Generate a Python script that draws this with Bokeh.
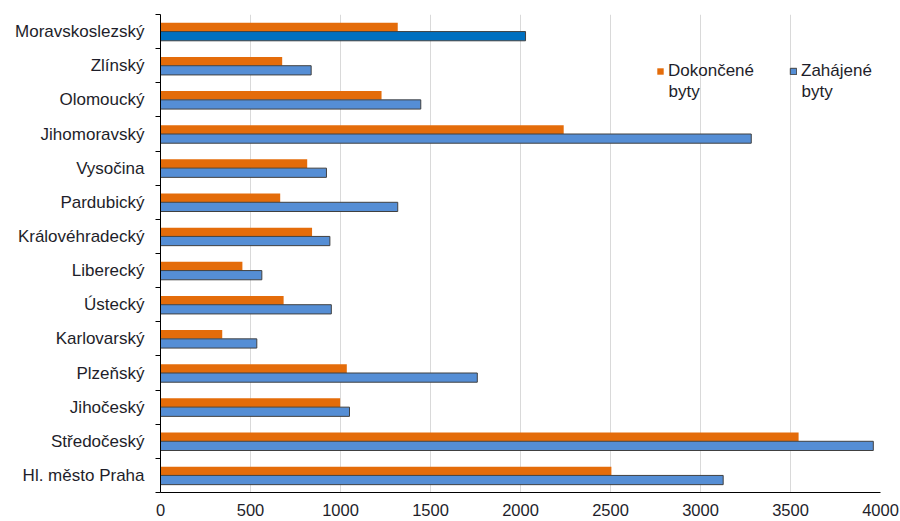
import numpy as np
from bokeh.plotting import figure
from bokeh.models import (ColumnDataSource, FixedTicker, Legend, LegendItem, Range1d, Label)
from bokeh.transform import dodge
from bokeh.embed import file_html
from bokeh.resources import INLINE

# Data (top to bottom as shown)
regions = ["Moravskoslezský", "Zlínský", "Olomoucký", "Jihomoravský", "Vysočina",
           "Pardubický", "Královéhradecký", "Liberecký", "Ústecký", "Karlovarský",
           "Plzeňský", "Jihočeský", "Středočeský", "Hl. město Praha"]
dokoncene = [1318, 676, 1228, 2240, 815, 665, 842, 455, 684, 343, 1035, 998, 3545, 2505]
zahajene = [2028, 837, 1446, 3282, 922, 1318, 941, 563, 949, 535, 1760, 1050, 3960, 3126]
highlight = "Moravskoslezský"
x_ticks = [0, 500, 1000, 1500, 2000, 2500, 3000, 3500, 4000]

ORANGE = "#E46C0A"
BLUE = "#558ED5"
BLUE_HI = "#0070C0"
TEXT = "#1e1e2a"
FONT = "Liberation Sans"

n = len(regions)
ypos = [n - 0.5 - i for i in range(n)]
blue_colors = [BLUE_HI if r == highlight else BLUE for r in regions]

src = ColumnDataSource(dict(y=ypos, dok=dokoncene, zah=zahajene, bc=blue_colors, reg=regions))

p = figure(width=900, height=521, x_range=Range1d(0, 4000), y_range=Range1d(0, n),
           output_backend="svg", toolbar_location=None,
           min_border_left=160, min_border_right=20, min_border_top=14, min_border_bottom=29)

r1 = p.hbar(y=dodge("y", 0.13), right="dok", left=0, height=0.255, source=src,
            fill_color=ORANGE, line_color=None)
r2 = p.hbar(y=dodge("y", -0.135), right="zah", left=0, height=0.27, source=src,
            fill_color="bc", line_color="#404040", line_width=1)

# axes
p.xaxis.ticker = FixedTicker(ticks=x_ticks)
p.xaxis.major_tick_out = 0
p.xaxis.major_tick_in = 0
p.xaxis.minor_tick_line_color = None
p.xaxis.axis_line_color = "black"
p.xaxis.major_label_text_font = FONT
p.xaxis.major_label_text_font_size = "16.5px"
p.xaxis.major_label_text_color = TEXT
p.xaxis.major_label_standoff = 11

p.yaxis.ticker = FixedTicker(ticks=ypos, minor_ticks=list(range(n + 1)))
p.yaxis.major_label_overrides = {float(y): r for y, r in zip(ypos, regions)}
p.yaxis.major_tick_out = 0
p.yaxis.major_tick_in = 0
p.yaxis.minor_tick_out = 5
p.yaxis.minor_tick_in = 0
p.yaxis.minor_tick_line_color = "black"
p.yaxis.axis_line_color = "black"
p.yaxis.major_label_text_font = FONT
p.yaxis.major_label_text_font_size = "17px"
p.yaxis.major_label_text_color = TEXT
p.yaxis.major_label_standoff = 11

p.xgrid.ticker = FixedTicker(ticks=x_ticks)
p.xgrid.grid_line_color = "#d9d9d9"
p.ygrid.grid_line_color = None
p.outline_line_color = None

leg_kw = dict(border_line_color=None, background_fill_alpha=0, padding=0, margin=0,
              label_text_font=FONT, label_text_font_size="17px", label_text_color=TEXT,
              glyph_width=8, glyph_height=8, label_standoff=4, spacing=0)
leg1 = Legend(items=[LegendItem(label="Dokončené", renderers=[r1])],
              location=(496, 411), **leg_kw)
leg2 = Legend(items=[LegendItem(label="Zahájené", renderers=[r2], index=1)],
              location=(629, 411), **leg_kw)
p.add_layout(leg1)
p.add_layout(leg2)
for lx in (508, 641):
    p.add_layout(Label(x=lx, y=401, x_units="screen", y_units="screen", text="byty",
                       text_font=FONT, text_font_size="17px", text_color=TEXT,
                       text_baseline="middle", text_align="left"))

open("out.html", "w").write(file_html(p, INLINE))
